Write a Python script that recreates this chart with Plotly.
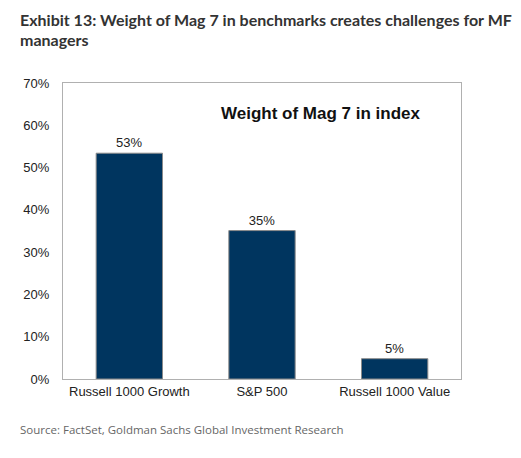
import plotly.graph_objects as go

# data
categories = ["Russell 1000 Growth", "S&P 500", "Russell 1000 Value"]
weights = [53.4, 35.1, 4.8]
labels = ["53%", "35%", "5%"]
y_ticks = [0, 10, 20, 30, 40, 50, 60, 70]
y_tick_text = ["0%", "10%", "20%", "30%", "40%", "50%", "60%", "70%"]

fig = go.Figure(go.Bar(
    x=categories, y=weights, text=labels, textposition="outside",
    marker=dict(color="#00355f", line=dict(color="#8a8a8a", width=1)),
    width=0.5, cliponaxis=False,
    textfont=dict(family="Liberation Sans, Arial", size=13, color="#222222"),
))

# page has an 8px body margin, so offsets are relative to that
fig.update_layout(
    width=521, height=458,
    margin=dict(l=55, r=68, t=75, b=87),
    paper_bgcolor="white", plot_bgcolor="white",
    showlegend=False,
    font=dict(family="Liberation Sans, Arial", size=13, color="#222222"),
)
fig.update_yaxes(range=[0, 70], tickvals=y_ticks, ticktext=y_tick_text,
                 showgrid=False, showline=True, linecolor="#b0b0b0", linewidth=1,
                 mirror=True, ticks="", ticklabelstandoff=10, zeroline=False)
fig.update_xaxes(showline=True, linecolor="#b0b0b0", linewidth=1, mirror=True,
                 ticks="", ticklabelstandoff=0)

# titles and source
title_font = dict(family="Lato", size=16, color="#333333")
fig.add_annotation(text="<b>Exhibit 13: Weight of Mag 7 in benchmarks creates challenges for MF</b>",
                   xref="paper", yref="paper", x=-0.113, y=1.214, xanchor="left", yanchor="middle",
                   showarrow=False, align="left", font=title_font)
fig.add_annotation(text="<b>managers</b>",
                   xref="paper", yref="paper", x=-0.113, y=1.148, xanchor="left", yanchor="middle",
                   showarrow=False, align="left", font=title_font)
fig.add_annotation(text="<b>Weight of Mag 7 in index</b>", xref="paper", yref="paper",
                   x=0.9045, y=0.8976, xanchor="right", yanchor="middle", showarrow=False,
                   font=dict(family="Liberation Sans, Arial", size=17, color="#111111"))
fig.add_annotation(text="Source: FactSet, Goldman Sachs Global Investment Research",
                   xref="paper", yref="paper", x=-0.113, y=-0.17, xanchor="left", yanchor="middle",
                   showarrow=False, font=dict(family="Open Sans", size=11.5, color="#666666"))

fig.write_html("out.html")
